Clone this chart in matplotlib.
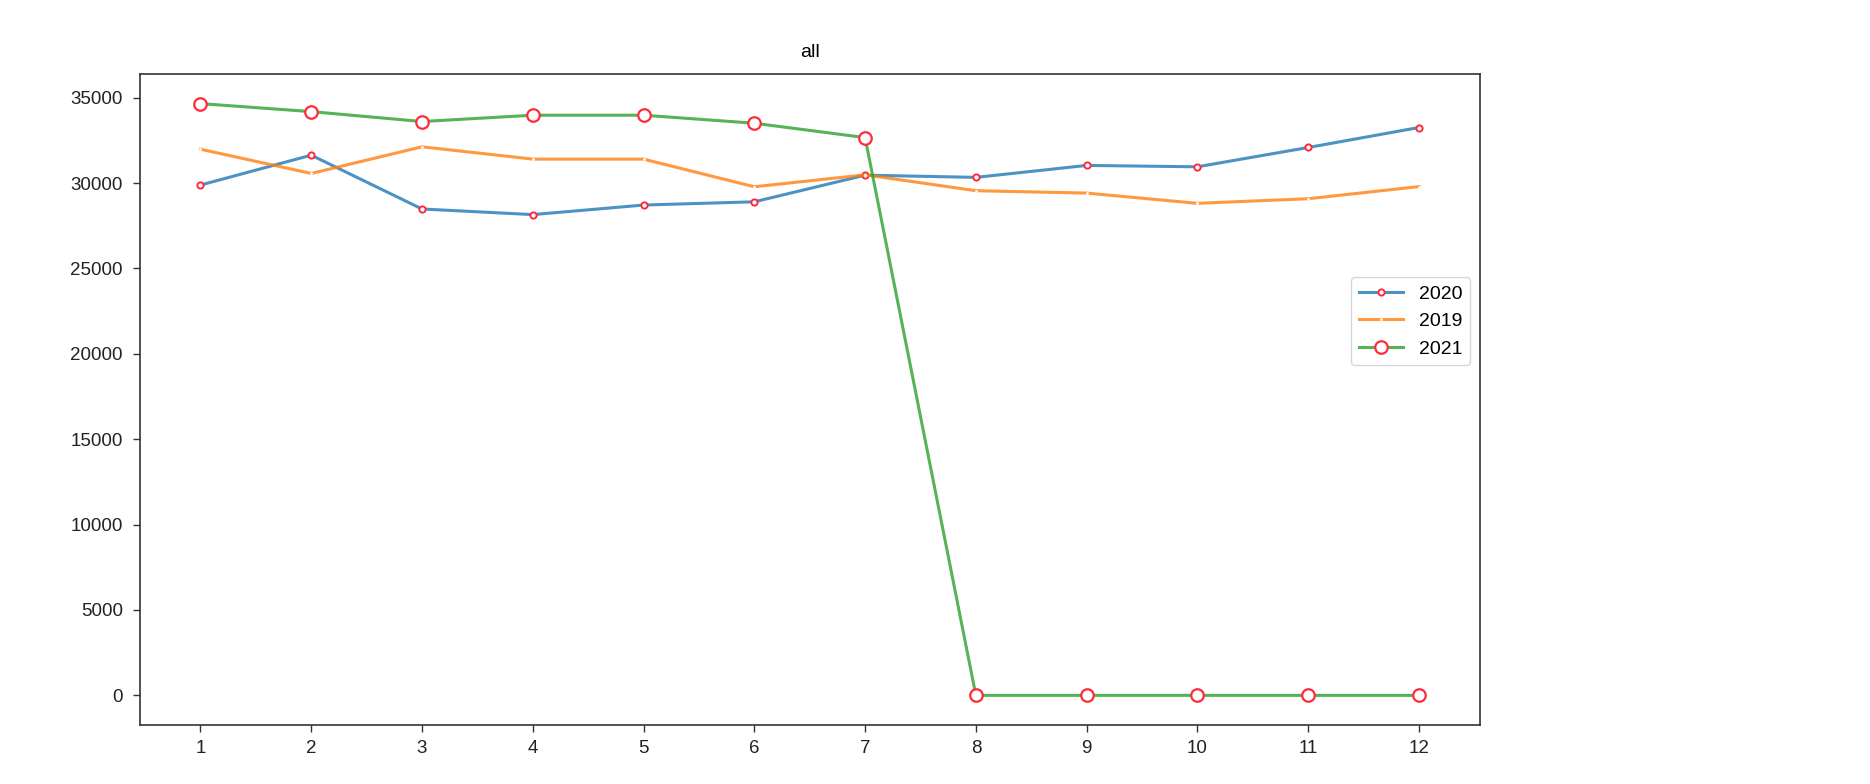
import matplotlib
matplotlib.use("Agg")
import matplotlib.pyplot as plt
from matplotlib.colors import to_rgba

months = [1, 2, 3, 4, 5, 6, 7, 8, 9, 10, 11, 12]
values_2020 = [29880, 31630, 28480, 28150, 28710, 28900, 30460, 30330, 31030, 30950, 32080, 33250]
values_2019 = [31980, 30560, 32120, 31400, 31400, 29780, 30480, 29550, 29410, 28810, 29080, 29790]
values_2021 = [34650, 34180, 33600, 33970, 33970, 33500, 32660, 0, 0, 0, 0, 0]
title = "all"

plt.rcParams['font.family'] = ['Liberation Sans', 'DejaVu Sans']
plt.rcParams['font.size'] = 13.5

fig = plt.figure(figsize=(18.7, 7.84), dpi=100)
ax = fig.add_axes([0.0746, 0.0753, 0.7168, 0.8303])

red = '#ff2a3a'
ax.plot(months, values_2020, color=to_rgba('#1f77b4', 0.8), lw=2.2, marker='o', markersize=4.5,
        markerfacecolor='white', markeredgecolor=red, markeredgewidth=1.4, label='2020')
ax.plot(months, values_2019, color=to_rgba('#ff7f0e', 0.8), lw=2.2, marker='.', markersize=2,
        markerfacecolor='white', markeredgecolor='white', label='2019')
ax.plot(months, values_2021, color=to_rgba('#2ca02c', 0.8), lw=2.2, marker='o', markersize=9,
        markerfacecolor='white', markeredgecolor=red, markeredgewidth=1.6, label='2021')

ax.set_xticks(months)
ax.set_title(title, fontsize=14, pad=12)
for s in ax.spines.values():
    s.set_color('#333333')
    s.set_linewidth(1.2)
ax.tick_params(direction='out', length=5, width=1, colors='#333333', labelcolor='#222222',
               labelsize=13.5)
ax.tick_params(axis='y', pad=7)
ax.tick_params(axis='x', pad=5.5)
ax.legend(loc='center right', bbox_to_anchor=(1.0, 0.62), fontsize=14, handlelength=2.3)

fig.savefig('out.png', dpi=100)
